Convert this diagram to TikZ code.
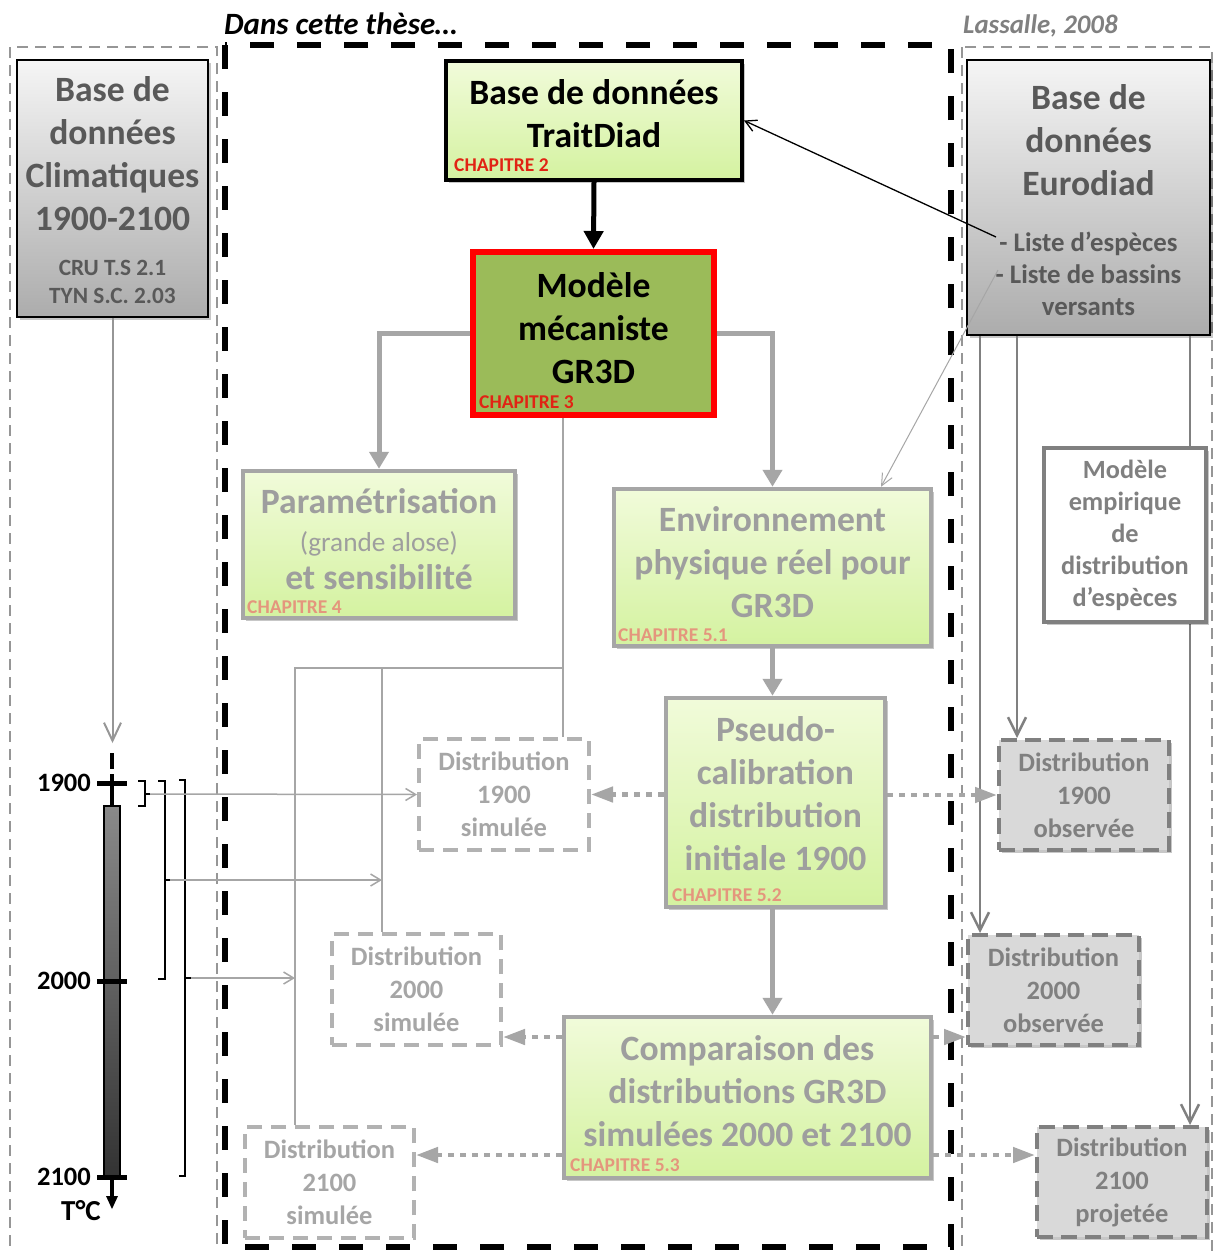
\documentclass[tikz,border=0pt]{standalone}
\usepackage{fontspec}
\setmainfont{Carlito}
\usetikzlibrary{arrows.meta,calc,shadows}

\definecolor{txtgrey}{RGB}{89,89,89}
\definecolor{fadegrey}{RGB}{166,166,166}
\definecolor{fadetxt}{RGB}{158,158,158}
\definecolor{midgrey}{RGB}{128,128,128}
\definecolor{frameg}{RGB}{150,150,150}
\definecolor{greenT}{RGB}{241,251,218}
\definecolor{greenB}{RGB}{212,242,160}
\definecolor{olive}{RGB}{155,187,89}
\definecolor{chapred}{RGB}{225,35,20}
\definecolor{chapfade}{RGB}{228,150,125}
\definecolor{dbT}{RGB}{245,245,245}
\definecolor{dbB}{RGB}{172,172,172}
\definecolor{obsfill}{RGB}{217,217,217}
\definecolor{simline}{RGB}{178,178,178}

\newcommand\fsz[2]{\fontsize{#1}{#2}\selectfont}

\begin{document}
\begin{tikzpicture}[x=1pt,y=-1pt,
  every node/.style={inner sep=0pt},
  softshadow/.style={drop shadow={shadow xshift=3pt,shadow yshift=-3pt,opacity=0.22,fill=black}},
  frame/.style={draw=frameg,line width=2pt,dash pattern=on 11pt off 7pt},
  thesis/.style={draw=black,line width=6pt,dash pattern=on 24pt off 23pt},
  dbbox/.style={draw=black,line width=1.5pt,top color=dbT,bottom color=dbB,softshadow},
  strongbox/.style={draw=black,line width=4pt,top color=greenT,bottom color=greenB,softshadow},
  corebox/.style={draw=red,line width=6pt,fill=olive},
  fadebox/.style={draw=fadegrey,line width=4.5pt,top color=greenT,bottom color=greenB,softshadow},
  simbox/.style={draw=simline,line width=4pt,dash pattern=on 15pt off 9pt,fill=white,
    text=fadegrey,align=center,font=\fsz{26.5}{33}\bfseries},
  obsbox/.style={draw=midgrey,line width=4pt,dash pattern=on 16pt off 8pt,fill=obsfill,
    text=midgrey,align=center,font=\fsz{26.5}{33}\bfseries,softshadow},
  empbox/.style={draw=midgrey,line width=4pt,fill=white,text=midgrey,align=center,
    font=\fsz{26.3}{32}\bfseries,softshadow},
  bigtxt/.style={align=center,font=\fsz{35.6}{43}\bfseries},
  chap/.style={anchor=west,font=\fsz{19.5}{22}\bfseries},
  yearlbl/.style={anchor=east,font=\fsz{26.5}{30}\bfseries},
  thickgrey/.style={draw=fadegrey,line width=5pt,-{Triangle[length=17pt,width=19pt]}},
  blackthick/.style={draw=black,line width=5pt,-{Triangle[length=18pt,width=19pt]}},
  dotarrow/.style={draw=fadegrey,line width=4.5pt,dash pattern=on 6pt off 6pt,
    -{Triangle[length=22pt,width=15pt]}},
  connector/.style={draw=fadegrey,line width=2.5pt},
  thinarrow/.style={draw=fadegrey,line width=1.5pt,-{Straight Barb[length=10pt,width=12pt]}},
  climarrow/.style={draw=frameg,line width=2pt,-{Straight Barb[length=18pt,width=17pt]}},
  euroarrow/.style={draw=midgrey,line width=2.5pt,-{Straight Barb[length=18pt,width=18pt]}},
  blackthin/.style={draw=black,line width=1.3pt,-{Straight Barb[length=11pt,width=12pt]}},
  greythin/.style={draw=fadegrey,line width=1pt,-{Straight Barb[length=12pt,width=11pt]}},
  bracket/.style={draw=black,line width=1.5pt},
]
\clip (0,0) rectangle (1214,1251);
\fill[white] (0,0) rectangle (1214,1251);

% ---- framing areas ----
\draw[frame] (10,47) rectangle (217,1262);
\draw[frame] (962,47) rectangle (1212,1262);
\draw[thesis] (225,45) rectangle (951,1247);
\node[font=\fsz{31}{34}\bfseries\itshape,anchor=west] (thesisT) at (224,24) {Dans cette thèse…};
\node[font=\fsz{26.8}{30}\bfseries\itshape,text=midgrey,anchor=west] (lassT) at (963,26) {Lassalle, 2008};

% ---- climate database ----
\node[dbbox,minimum width=191pt,minimum height=257pt] (clim) at (112.5,188.5) {};
\node[bigtxt,text=txtgrey] (climT) at (112.5,154) {Base de\\données\\Climatiques\\1900-2100};
\node[align=center,text=txtgrey,font=\fsz{23.3}{28}\bfseries] (climS) at (112.5,282) {CRU T.S 2.1\\TYN S.C. 2.03};

% ---- Eurodiad database ----
\node[dbbox,minimum width=243pt,minimum height=275pt] (euro) at (1088.5,197.5) {};
\node[bigtxt,text=txtgrey] (euroT) at (1088.5,140) {Base de\\données\\Eurodiad};
\node[align=center,text=txtgrey,font=\fsz{26.8}{32}\bfseries] (euroS) at (1088.5,274) {- Liste d’espèces\\- Liste de bassins\\versants};

% ---- TraitDiad ----
\node[strongbox,minimum width=296pt,minimum height=119pt] (trait) at (594,120.5) {};
\node[bigtxt] (traitT) at (594,114) {Base de données\\TraitDiad};
\node[chap,text=chapred] (ch2) at (454,165) {CHAPITRE 2};

% ---- GR3D ----
\node[corebox,minimum width=241pt,minimum height=163pt] (gr3d) at (593.5,333.5) {};
\node[bigtxt] (gr3dT) at (593.5,328) {Modèle\\mécaniste\\GR3D};
\node[chap,text=chapred] (ch3) at (479,402) {CHAPITRE 3};

% ---- parametrisation ----
\node[fadebox,minimum width=272pt,minimum height=147pt] (param) at (379,544.5) {};
\node[align=center,text=fadetxt,font=\fsz{35.6}{38}\bfseries] (paramT) at (379,539)
  {Paramétrisation\\{\mdseries\fsz{27.3}{38}\selectfont(grande alose)}\\et sensibilité};
\node[chap,text=chapfade] (ch4) at (247,607) {CHAPITRE 4};

% ---- environment ----
\node[fadebox,minimum width=317pt,minimum height=157pt] (env) at (772.5,567.5) {};
\node[bigtxt,text=fadetxt] (envT) at (772.5,562) {Environnement\\physique réel pour\\GR3D};
\node[chap,text=chapfade] (ch51) at (618,635) {CHAPITRE 5.1};

% ---- pseudo-calibration ----
\node[fadebox,minimum width=219pt,minimum height=209pt] (pseudo) at (775.5,802.5) {};
\node[bigtxt,text=fadetxt] (pseudoT) at (775.5,793.5) {Pseudo-\\calibration\\distribution\\initiale 1900};
\node[chap,text=chapfade] (ch52) at (672,895) {CHAPITRE 5.2};

% ---- comparison ----
\node[fadebox,minimum width=367pt,minimum height=161pt] (comp) at (747.5,1097.5) {};
\node[bigtxt,text=fadetxt] (compT) at (747.5,1091) {Comparaison des\\distributions GR3D\\simulées 2000 et 2100};
\node[chap,text=chapfade] (ch53) at (570,1165) {CHAPITRE 5.3};

% ---- simulated distributions ----
\node[simbox,minimum width=170pt,minimum height=111pt] (sim1900) at (504,794.5) {Distribution\\1900\\simulée};
\node[simbox,minimum width=169pt,minimum height=111pt] (sim2000) at (416.5,989.5) {Distribution\\2000\\simulée};
\node[simbox,minimum width=169pt,minimum height=111pt] (sim2100) at (329.5,1182.5) {Distribution\\2100\\simulée};

% ---- observed / projected distributions ----
\node[obsbox,minimum width=170pt,minimum height=110pt] (obs1900) at (1084,795) {Distribution\\1900\\observée};
\node[obsbox,minimum width=171pt,minimum height=110pt] (obs2000) at (1053.5,990) {Distribution\\2000\\observée};
\node[obsbox,minimum width=170pt,minimum height=110pt] (proj2100) at (1122,1182) {Distribution\\2100\\projetée};

% ---- Eurodiad feeds ----
\coordinate (e1) at (980,0);
\coordinate (e2) at (1017,0);
\coordinate (e3) at (1190,0);
\draw[euroarrow] (euro.south -| e1) -- (obs2000.north -| e1);
\draw[euroarrow] (euro.south -| e2) -- (obs1900.north -| e2);
\draw[euroarrow] (euro.south -| e3) -- (proj2100.north -| e3);
\node[empbox,minimum width=162pt,minimum height=174pt] (emp) at (1125,535) {Modèle\\empirique\\de\\distribution\\d’espèces};

\coordinate (le) at (996,237);
\draw[blackthin] (le) -- (trait.east);
\coordinate (lb) at (998,270);
\coordinate (envtip) at (881,0);
\draw[greythin] (lb) -- (env.north -| envtip);

% ---- main flow ----
\draw[blackthick] (trait.south) -- (gr3d.north);
\draw[thickgrey] (gr3d.west) -- (gr3d.west -| param.north) -- (param.north);
\draw[thickgrey] (gr3d.east) -- (gr3d.east -| env.north) -- (env.north);
\coordinate (axis) at (env.south);
\draw[thickgrey] (env.south) -- (pseudo.north -| axis);
\draw[thickgrey] (pseudo.south -| axis) -- (comp.north -| axis);

% ---- simulation branches from GR3D ----
\coordinate (br) at (563,668);
\coordinate (br2) at (382,668);
\coordinate (br3) at (295,668);
\draw[connector] (gr3d.south -| br) -- (br) -- (br |- sim1900.north);
\draw[connector] (br) -- (br3) -- (br3 |- sim2100.north);
\draw[connector] (br2) -- (br2 |- sim2000.north);

% ---- dotted result arrows ----
\coordinate (c1) at (0,1037);
\coordinate (c2) at (0,1155);
\draw[dotarrow] (pseudo.west |- sim1900.east) -- (sim1900.east);
\draw[dotarrow] (pseudo.east |- obs1900.west) -- (obs1900.west);
\draw[dotarrow] (comp.west |- c1) -- (sim2000.east |- c1);
\draw[dotarrow] (comp.east |- c1) -- (obs2000.west |- c1);
\draw[dotarrow] (comp.west |- c2) -- (sim2100.east |- c2);
\draw[dotarrow] (comp.east |- c2) -- (proj2100.west |- c2);

% ---- temperature time line ----
\coordinate (tltop) at (112.5,743);
\draw[climarrow] (clim.south) -- (tltop);
\node[draw=black,line width=2pt,top color=black!46,bottom color=black!80,
  minimum width=16pt,minimum height=370pt] (tbar) at (112,991) {};
\draw[line width=4pt] (112,753) -- (112,769);
\draw[line width=4pt] (112,774) -- (tbar.north);
\coordinate (tlend) at (112,1197);
\draw[line width=4pt] (tbar.south) -- (tlend);
\fill (106,1196) -- (118,1196) -- (112,1209) -- cycle;
\draw[line width=5pt] (97,783) -- (127,783);
\draw[line width=5pt] (97,981) -- (127,981);
\draw[line width=5pt] (97,1177) -- (127,1177);
\node[yearlbl] (y1900) at (91,783) {1900};
\node[yearlbl] (y2000) at (91,981) {2000};
\node[yearlbl] (y2100) at (91,1177) {2100};
\node[font=\fsz{29}{32}\bfseries] (tdeg) at (81,1211) {T°C};

% ---- period brackets ----
\draw[bracket] (138,781) -- (145,781) -- (145,806) -- (138,806);
\draw[bracket] (145,794) -- (150,794);
\draw[bracket] (158,781) -- (165,781) -- (165,979) -- (158,979);
\draw[bracket] (165,880) -- (170,880);
\draw[bracket] (179,780) -- (185,780) -- (185,1176) -- (179,1176);
\draw[bracket] (185,978) -- (191,978);
\coordinate (k1) at (150,794);
\coordinate (k2) at (170,880);
\coordinate (k3) at (191,978);
\draw[thinarrow] (k1) -- (sim1900.west);
\draw[thinarrow] (k2) -- (br2 |- k2);
\draw[thinarrow] (k3) -- (br3 |- k3);
\end{tikzpicture}
\end{document}
